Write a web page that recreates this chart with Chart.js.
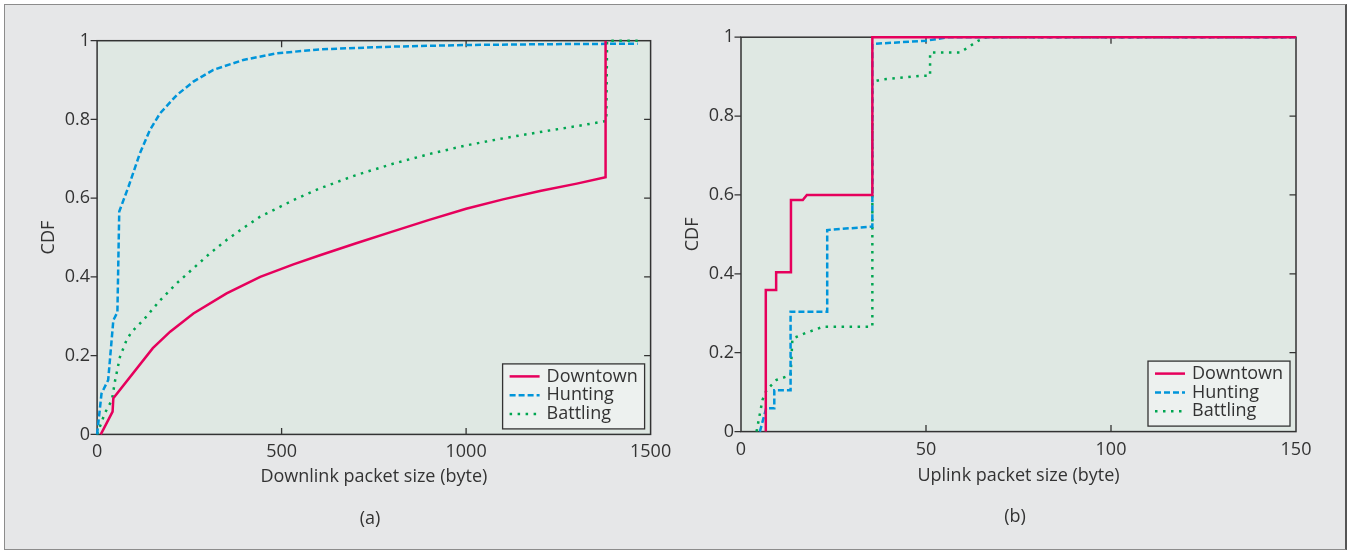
<!DOCTYPE html>
<html>
<head>
<meta charset="utf-8">
<script src="https://cdn.jsdelivr.net/npm/chart.js@4.4.1/dist/chart.umd.min.js"></script>
<style>
  html, body { margin: 0; padding: 0; background: #ffffff; width: 1357px; height: 550px; overflow: hidden; }
  #frame { position: absolute; left: 4px; top: 4px; width: 1343px; height: 546px; box-sizing: border-box;
           background: #e6e7e8; border: 1.5px solid #8c8c8c; border-right: 2px solid #555; z-index: 0; }
  .wrap { position: absolute; top: 0; height: 550px; z-index: 1; }
  #wa { left: 0; width: 680px; }
  #wb { left: 680px; width: 677px; }
  .cap { position: absolute; font: 18px 'Open Sans', sans-serif; color: #333; transform: translate(-50%, -50%); z-index: 2; white-space: nowrap; }
</style>
</head>
<body>
<div id="frame"></div>
<div class="wrap" id="wa"><canvas id="ca" width="680" height="550"></canvas></div>
<div class="wrap" id="wb"><canvas id="cb" width="677" height="550"></canvas></div>
<div class="cap" style="left:370px; top:517px;">(a)</div>
<div class="cap" style="left:1015px; top:515px;">(b)</div>
<script>
// ---------- tick labels ----------
const yTicks = [0, 0.2, 0.4, 0.6, 0.8, 1];
const dlXTicks = [0, 500, 1000, 1500];
const ulXTicks = [0, 50, 100, 150];

// ---------- series names ----------
const seriesNames = ['Downtown', 'Hunting', 'Battling'];

// ---------- (a) downlink packet size CDF ----------
const dlDowntownX = [10, 42, 44, 151, 198, 261, 351, 442, 532, 604, 700, 800, 900, 1000, 1100, 1200, 1300, 1378, 1378];
const dlDowntownY = [0, 0.058, 0.092, 0.219, 0.261, 0.307, 0.358, 0.400, 0.432, 0.455, 0.485, 0.515, 0.545, 0.573, 0.597, 0.618, 0.637, 0.653, 1.0];

const dlHuntingX = [0, 12, 30, 44, 55, 60, 85, 116, 143, 171, 216, 261, 315, 396, 487, 604, 800, 1000, 1200, 1378, 1465];
const dlHuntingY = [0, 0.104, 0.138, 0.29, 0.31, 0.566, 0.629, 0.714, 0.773, 0.816, 0.862, 0.896, 0.926, 0.951, 0.968, 0.978, 0.985, 0.989, 0.991, 0.992, 0.992];

const dlBattlingX = [0, 21, 40, 49, 62, 80, 94, 125, 171, 216, 261, 306, 351, 396, 442, 487, 532, 604, 700, 800, 900, 1000, 1100, 1200, 1300, 1380, 1382, 1465];
const dlBattlingY = [0, 0.054, 0.087, 0.138, 0.197, 0.24, 0.261, 0.29, 0.341, 0.384, 0.422, 0.46, 0.494, 0.524, 0.553, 0.574, 0.595, 0.625, 0.658, 0.687, 0.712, 0.734, 0.752, 0.768, 0.783, 0.796, 1.0, 1.0];

// ---------- (b) uplink packet size CDF ----------
const ulDowntownX = [6.7, 6.7, 9.5, 9.5, 13.5, 13.5, 16.7, 17.8, 35.5, 35.5, 150];
const ulDowntownY = [0, 0.359, 0.359, 0.404, 0.404, 0.587, 0.587, 0.6, 0.6, 1.0, 1.0];

const ulHuntingX = [5.1, 6.8, 9.0, 9.0, 13.4, 13.4, 23.3, 23.3, 35.5, 35.5, 50, 56, 150];
const ulHuntingY = [0, 0.059, 0.059, 0.105, 0.105, 0.304, 0.304, 0.511, 0.52, 0.983, 0.991, 1.0, 1.0];

const ulBattlingX = [4.2, 5.8, 6.9, 9.6, 13.4, 13.9, 17.5, 22.2, 35.5, 35.5, 38.2, 48.8, 51.1, 51.1, 59.2, 64.1, 66.4, 150];
const ulBattlingY = [0, 0.08, 0.105, 0.131, 0.143, 0.236, 0.25, 0.266, 0.266, 0.887, 0.893, 0.902, 0.902, 0.961, 0.961, 0.991, 1.0, 1.0];

// ---------- styles ----------
const COLORS = ['#e6005c', '#0095da', '#00a651'];
const DASHES = [[], [6, 3], [2.5, 5.5]];
const TEXT = '#333333';
const PLOT_BG = '#dfe8e3';
const LEGEND_BG = '#edf1ef';
const FONT = "'Open Sans', sans-serif";

Chart.defaults.font.family = FONT;
Chart.defaults.color = TEXT;

function pts(xs, ys) { return xs.map((x, i) => ({ x: x, y: ys[i] })); }

function makeDatasets(seriesX, seriesY) {
  return seriesNames.map((name, i) => ({
    label: name,
    data: pts(seriesX[i], seriesY[i]),
    borderColor: COLORS[i],
    backgroundColor: COLORS[i],
    borderWidth: 2.5,
    borderDash: DASHES[i],
    borderCapStyle: 'butt',
    borderJoinStyle: 'miter',
    pointRadius: 0,
    tension: 0,
    fill: false,
    clip: false
  }));
}

const axesPlugin = {
  id: 'axesFrame',
  beforeDatasetsDraw(chart) {
    const { ctx, chartArea: { left, top, right, bottom } } = chart;
    const xs = chart.scales.x, ys = chart.scales.y;
    ctx.save();
    ctx.fillStyle = PLOT_BG;
    ctx.fillRect(left, top, right - left, bottom - top);
    ctx.strokeStyle = '#333';
    ctx.lineWidth = 1.5;
    ctx.strokeRect(left, top, right - left, bottom - top);
    const tl = 6.5;
    ctx.lineWidth = 1.3;
    ctx.beginPath();
    xs.ticks.forEach(t => {
      const px = xs.getPixelForValue(t.value);
      if (px <= left + 1 || px >= right - 1) return;
      ctx.moveTo(px, bottom); ctx.lineTo(px, bottom - tl);
      ctx.moveTo(px, top); ctx.lineTo(px, top + tl);
    });
    ys.ticks.forEach(t => {
      const py = ys.getPixelForValue(t.value);
      ctx.moveTo(left - tl, py); ctx.lineTo(left, py);
      if (py <= top + 1 || py >= bottom - 1) return;
      ctx.moveTo(right, py); ctx.lineTo(right - tl, py);
    });
    ctx.stroke();
    ctx.restore();
  },
  afterDatasetsDraw(chart) {
    const { ctx, chartArea: { right, bottom } } = chart;
    const w = 142, h = 65;
    const bx = right - 6 - w, by = bottom - 5.5 - h;
    ctx.save();
    ctx.fillStyle = LEGEND_BG;
    ctx.fillRect(bx, by, w, h);
    ctx.strokeStyle = '#333';
    ctx.lineWidth = 1.3;
    ctx.strokeRect(bx, by, w, h);
    ctx.font = '18px ' + FONT;
    ctx.textBaseline = 'middle';
    ctx.textAlign = 'left';
    chart.data.datasets.forEach((ds, i) => {
      const ry = by + 12.5 + i * 18.8;
      ctx.strokeStyle = ds.borderColor;
      ctx.lineWidth = ds.borderWidth;
      ctx.setLineDash(ds.borderDash);
      ctx.lineCap = 'butt';
      ctx.beginPath();
      ctx.moveTo(bx + 7, ry); ctx.lineTo(bx + 37, ry);
      ctx.stroke();
      ctx.setLineDash([]);
      ctx.fillStyle = TEXT;
      ctx.fillText(ds.label, bx + 44, ry);
    });
    ctx.restore();
  }
};

function makeChart(canvasId, datasets, cfg) {
  return new Chart(document.getElementById(canvasId), {
    type: 'line',
    data: { datasets: datasets },
    options: {
      responsive: false,
      animation: false,
      events: [],
      layout: { padding: cfg.padding },
      plugins: { legend: { display: false }, tooltip: { enabled: false } },
      scales: {
        x: {
          type: 'linear',
          min: cfg.xMin, max: cfg.xMax,
          afterBuildTicks: s => { s.ticks = cfg.xTicks.map(v => ({ value: v })); },
          afterFit: s => { s.height = cfg.xHeight; },
          grid: { display: false, drawTicks: false },
          border: { display: false },
          ticks: { autoSkip: false, maxRotation: 0, padding: 7, color: TEXT,
                   font: { size: 18, family: FONT }, callback: v => String(v) },
          title: { display: true, text: cfg.xTitle, color: TEXT,
                   font: { size: 18, family: FONT, lineHeight: 1.2 },
                   padding: { top: 0, bottom: cfg.xTitlePad } }
        },
        y: {
          type: 'linear',
          min: 0, max: 1,
          afterBuildTicks: s => { s.ticks = yTicks.map(v => ({ value: v })); },
          afterFit: s => { s.width = cfg.yWidth; },
          grid: { display: false, drawTicks: false },
          border: { display: false },
          ticks: { autoSkip: false, padding: 7, color: TEXT,
                   font: { size: 18, family: FONT }, callback: v => String(Math.round(v * 10) / 10) },
          title: { display: true, text: 'CDF', color: TEXT,
                   font: { size: 18, family: FONT, lineHeight: 1.2 },
                   padding: { top: cfg.yTitlePad, bottom: 0 } }
        }
      }
    },
    plugins: [axesPlugin]
  });
}

function draw() {
  makeChart('ca',
    makeDatasets([dlDowntownX, dlHuntingX, dlBattlingX], [dlDowntownY, dlHuntingY, dlBattlingY]),
    { padding: { top: 40.7, right: 29.4, bottom: 60, left: 0 },
      xMin: 0, xMax: 1500, xTicks: dlXTicks, xHeight: 490 - 434.4, yWidth: 97.1,
      xTitle: 'Downlink packet size (byte)', xTitlePad: 2, yTitlePad: 38.2 });
  makeChart('cb',
    makeDatasets([ulDowntownX, ulHuntingX, ulBattlingX], [ulDowntownY, ulHuntingY, ulBattlingY]),
    { padding: { top: 37.2, right: 61, bottom: 60, left: 0 },
      xMin: 0, xMax: 150, xTicks: ulXTicks, xHeight: 490 - 431.6, yWidth: 61,
      xTitle: 'Uplink packet size (byte)', xTitlePad: 3.5, yTitlePad: 2.2 });
}
if (document.fonts && document.fonts.load) {
  document.fonts.load("18px 'Open Sans'").then(draw, draw);
} else { draw(); }
</script>
</body>
</html>
